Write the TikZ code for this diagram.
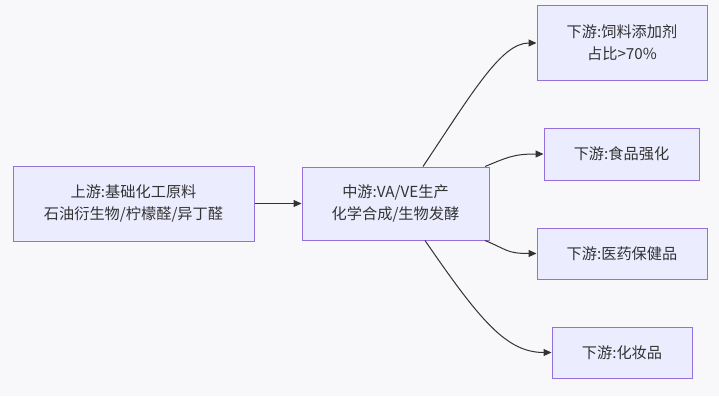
\documentclass[tikz,border=0pt]{standalone}
\usepackage{fontspec}
\setmainfont{Noto Sans CJK SC}
\usetikzlibrary{arrows.meta}
\definecolor{bgc}{HTML}{F8F8FA}
\definecolor{boxfill}{HTML}{ECECFF}
\definecolor{boxline}{HTML}{9370DB}
\definecolor{txt}{HTML}{333333}
\tikzset{
  box/.style={draw=boxline, fill=boxfill, line width=1pt, inner sep=0pt, align=center,
    text=txt, font=\fontsize{15.2}{22}\selectfont},
  link/.style={draw=txt, line width=1pt, -{Triangle[length=8pt,width=7pt]}}
}
\begin{document}
\begin{tikzpicture}[x=1pt,y=-1pt]
\fill[bgc] (0,0) rectangle (719,396);
\useasboundingbox (0,0) rectangle (719,396);
\node[box, minimum width=241pt, minimum height=75pt] (up) at (133.5,203.5) {上游:基础化工原料\\石油衍生物/柠檬醛/异丁醛};
\node[box, minimum width=187pt, minimum height=73pt] (mid) at (395.5,203.5) {中游:VA/VE生产\\化学合成/生物发酵};
\node[box, minimum width=170pt, minimum height=74pt] (d1) at (622,43) {下游:饲料添加剂\\占比>70\%};
\node[box, minimum width=155pt, minimum height=52pt] (d2) at (621.5,154) {下游:食品强化};
\node[box, minimum width=170pt, minimum height=51pt] (d3) at (622,253.5) {下游:医药保健品};
\node[box, minimum width=140pt, minimum height=51pt] (d4) at (622,352.5) {下游:化妆品};
\draw[link] (up) -- (mid);
\draw[link] ([xshift=27.5pt]mid.north) .. controls +(50,-75) and +(-35,0) .. (d1.west);
\draw[link] ([xshift=89.5pt]mid.north) .. controls +(22,-9) and +(-30,0) .. (d2.west);
\draw[link] ([xshift=89.5pt]mid.south) .. controls +(22,9) and +(-30,0) .. (d3.west);
\draw[link] ([xshift=29.5pt]mid.south) .. controls +(55,80) and +(-45,0) .. (d4.west);
\end{tikzpicture}
\end{document}
